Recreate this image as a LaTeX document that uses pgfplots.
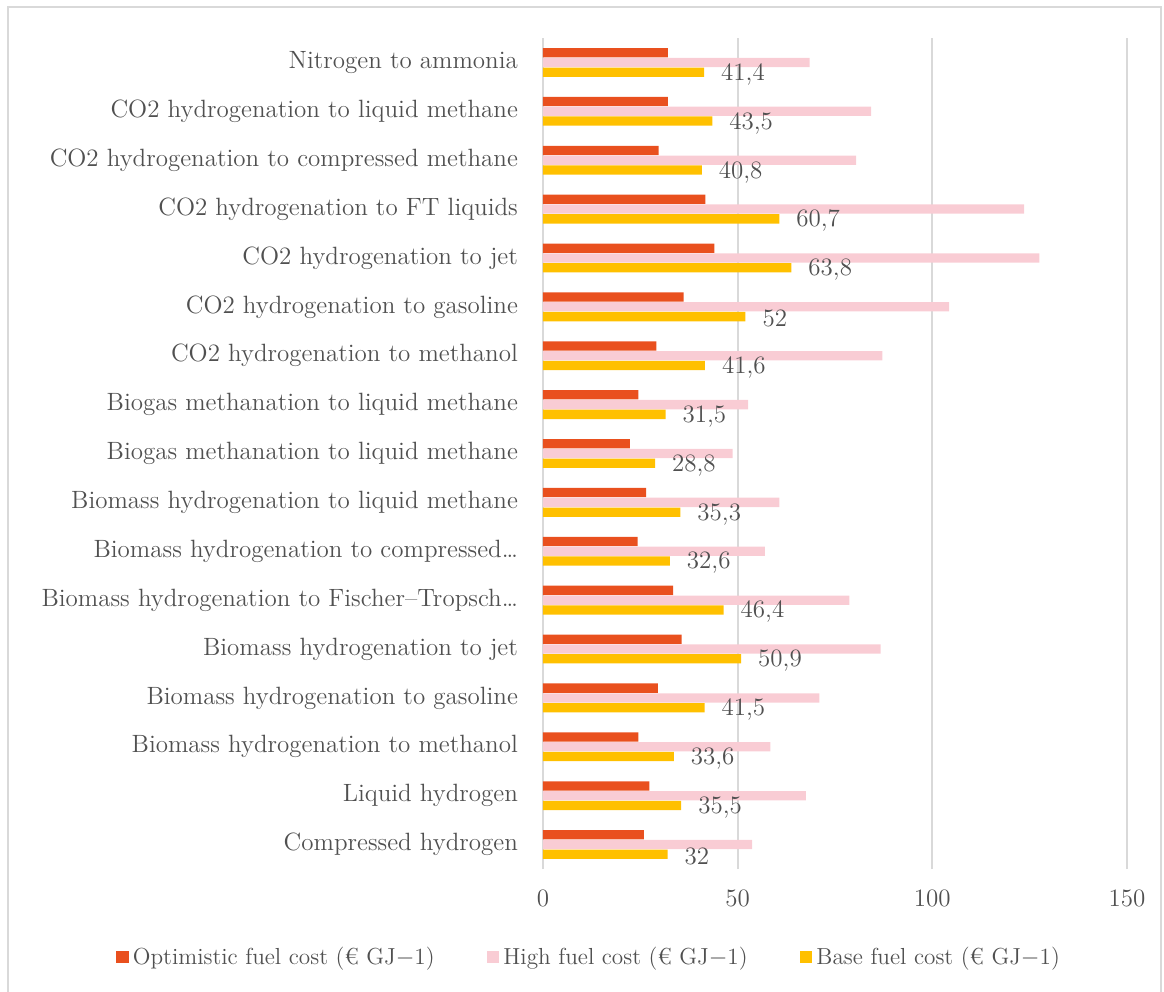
\documentclass[border=0pt]{standalone}
\usepackage{pgfplots}
\usepackage{pgfplotstable}
\pgfplotsset{compat=1.18}
\definecolor{cOpt}{RGB}{233,80,30}
\definecolor{cHigh}{RGB}{249,204,212}
\definecolor{cBase}{RGB}{255,192,0}
\definecolor{cText}{RGB}{80,80,80}
\definecolor{cGrid}{RGB}{217,217,217}
\pgfplotstableread{
y opt high base label
16 32.1 68.5 41.4 41,4
15 32.1 84.3 43.5 43,5
14 29.7 80.4 40.8 40,8
13 41.7 123.6 60.7 60,7
12 44.0 127.5 63.8 63,8
11 36.1 104.3 52.0 52
10 29.1 87.2 41.6 41,6
9 24.5 52.7 31.5 31,5
8 22.3 48.7 28.8 28,8
7 26.5 60.7 35.3 35,3
6 24.3 57.0 32.6 32,6
5 33.4 78.7 46.4 46,4
4 35.6 86.7 50.9 50,9
3 29.5 71.0 41.5 41,5
2 24.5 58.4 33.6 33,6
1 27.3 67.5 35.5 35,5
0 25.9 53.7 32.0 32
}\datatable
\begin{document}
\begin{tikzpicture}[font=\fontsize{12.5}{15}\selectfont]
\useasboundingbox (-271.5pt,-61.5pt) rectangle (310.5pt,434.5pt);
\draw[cGrid, line width=0.9pt] (-267.5pt,-70pt) -- (-267.5pt,431pt) -- (309pt,431pt) -- (309pt,-70pt);
\begin{axis}[
  scale only axis,
  width=292pt, height=415.5pt,
  xbar,
  xmin=0, xmax=150,
  ymin=-0.5, ymax=16.5,
  bar width=0.19,
  axis line style={draw=none},
  xmajorgrids,
  grid style={cGrid, line width=0.9pt},
  xtick={0,50,100,150},
  major tick length=0pt,
  /pgf/number format/assume math mode=true,
  xticklabel style={text=cText, yshift=-7pt},
  ytick={0,...,16},
  yticklabels={
    {Compressed hydrogen},
    {Liquid hydrogen},
    {Biomass hydrogenation to methanol},
    {Biomass hydrogenation to gasoline\ },
    {Biomass hydrogenation to jet\ },
    {Biomass hydrogenation to Fischer–Tropsch…},
    {Biomass hydrogenation to compressed…},
    {Biomass hydrogenation to liquid methane},
    {Biogas methanation to liquid methane},
    {Biogas methanation to liquid methane},
    {CO2 hydrogenation to methanol},
    {CO2 hydrogenation to gasoline},
    {CO2 hydrogenation to jet},
    {CO2 hydrogenation to FT liquids},
    {CO2 hydrogenation to compressed methane},
    {CO2 hydrogenation to liquid methane},
    {Nitrogen to ammonia}},
  yticklabel style={text=cText, xshift=-9pt},
  legend columns=3,
  legend style={draw=none, at={(0,0)}, anchor=center, xshift=23.5pt, yshift=-44pt,
    text=cText, font=\fontsize{11.6}{14}\selectfont,
    /tikz/every even column/.append style={column sep=24pt}},
  legend image code/.code={\fill[#1] (0pt,-3.2pt) rectangle (6.4pt,3.2pt);},
]
\addplot[fill=cOpt, draw=none, bar shift=0.2] table[x=opt, y=y] {\datatable};
\addlegendentry{Optimistic fuel cost (€ GJ$-$1)}
\addplot[fill=cHigh, draw=none, bar shift=0] table[x=high, y=y] {\datatable};
\addlegendentry{High fuel cost (€ GJ$-$1)}
\addplot[fill=cBase, draw=none, bar shift=-0.2,
  point meta=explicit symbolic,
  nodes near coords,
  nodes near coords style={text=cText, anchor=west, xshift=5pt, yshift=-1pt}] table[x=base, y=y, meta=label] {\datatable};
\addlegendentry{Base fuel cost (€ GJ$-$1)}
\end{axis}
\end{tikzpicture}
\end{document}
